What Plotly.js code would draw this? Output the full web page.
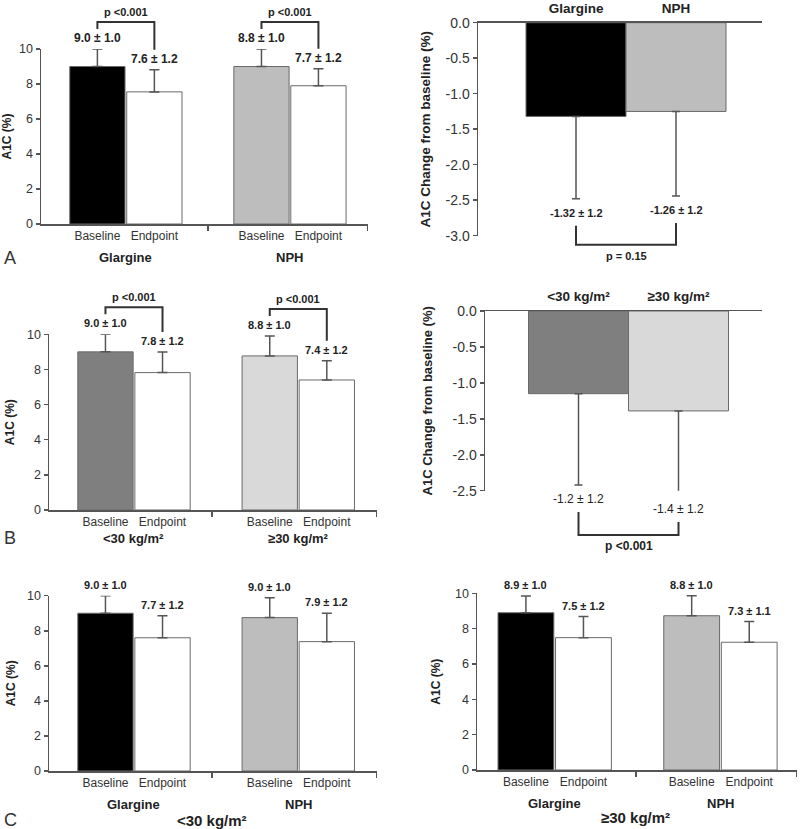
<!DOCTYPE html>
<html><head><meta charset="utf-8">
<script src="https://cdn.plot.ly/plotly-3.0.1.min.js"></script>
<style>html,body{margin:0;padding:0;background:#fff}</style>
</head><body><div id="chart" style="width:800px;height:829px"></div>
<script>
// ---------------- data ----------------
const phases = ['Baseline', 'Endpoint'];
const treatGroups = ['Glargine', 'NPH'];
const bmiGroups = ['<30 kg/m²', '≥30 kg/m²'];

// Panel A: by treatment
const aMean = [9.0, 7.55, 9.0, 7.9];
const aErr = [1.0, 1.26, 1.0, 0.97];
const aLabels = ['9.0 ± 1.0', '7.6 ± 1.2', '8.8 ± 1.0', '7.7 ± 1.2'];
const aP = ['p <0.001', 'p <0.001'];
const aChange = [-1.32, -1.25];
const aChangeErr = [1.16, 1.19];
const aChangeLabels = ['-1.32 ± 1.2', '-1.26 ± 1.2'];
const aChangeP = 'p = 0.15';

// Panel B: by BMI
const bMean = [9.0, 7.82, 8.77, 7.4];
const bErr = [1.0, 1.17, 1.13, 1.1];
const bLabels = ['9.0 ± 1.0', '7.8 ± 1.2', '8.8 ± 1.0', '7.4 ± 1.2'];
const bP = ['p <0.001', 'p <0.001'];
const bChange = [-1.15, -1.39];
const bChangeErr = [1.27, 1.17];
const bChangeLabels = ['-1.2 ± 1.2', '-1.4 ± 1.2'];
const bChangeP = 'p <0.001';

// Panel C: treatment within BMI strata
const cLowMean = [9.0, 7.6, 8.75, 7.38];
const cLowErr = [1.0, 1.26, 1.14, 1.62];
const cLowLabels = ['9.0 ± 1.0', '7.7 ± 1.2', '9.0 ± 1.0', '7.9 ± 1.2'];
const cHighMean = [8.9, 7.49, 8.73, 7.23];
const cHighErr = [0.95, 1.19, 1.13, 1.17];
const cHighLabels = ['8.9 ± 1.0', '7.5 ± 1.2', '8.8 ± 1.0', '7.3 ± 1.1'];

// ---------------- style / geometry ----------------
const W = 800, H = 829;
const FONT = 'Liberation Sans, Arial, Helvetica, sans-serif';
const AX = '#555';
const INK = '#222';
const BLACK = '#000000', MIDGRAY = '#bdbdbd', DARKGRAY = '#7f7f7f', LIGHTGRAY = '#d9d9d9', WHITE = '#ffffff';
const GROUP_X = [0, 1, 2.88, 3.88];
const PAIR_X = [0, 1];

const P = {
  aL: {id: '',  xd: [41, 368],  yd: [224, 49],     xr: [-0.99, 4.75],  yr: [0, 10], mid: 1.94, stand: 5,  tfs: 12, grpOff: 34, lblFs: 12, pFs: 11},
  aR: {id: '2', xd: [478, 762], yd: [235.7, 22.7], xr: [-0.98, 1.86],  yr: [-3, 0], stand: 12, tfs: 13.5, drop: 32, lblFs: 11, lblBold: true, pFs: 11},
  bL: {id: '3', xd: [49, 377],  yd: [510, 334.3],  xr: [-0.99, 4.76],  yr: [0, 10], mid: 1.87, stand: 10, tfs: 12, grpOff: 28, lblFs: 11, pFs: 11},
  bR: {id: '4', xd: [485, 762], yd: [490.7, 311],  xr: [-0.935, 1.835], yr: [-2.5, 0], stand: 17, tfs: 13, drop: 26, lblFs: 12, lblBold: false, pFs: 12},
  cL: {id: '5', xd: [49, 377],  yd: [771, 595.7],  xr: [-0.99, 4.76],  yr: [0, 10], mid: 1.87, stand: 9,  tfs: 12, grpOff: 33, lblFs: 11},
  cR: {id: '6', xd: [477, 797], yd: [770, 593.3],  xr: [-0.85, 4.71],  yr: [0, 10], mid: 1.91, stand: 12, tfs: 12, grpOff: 33, lblFs: 11}
};

const toPY = p => 1 - p / H;
const toPX = p => p / W;
function vy(pn, v) { return pn.yd[0] + (v - pn.yr[0]) / (pn.yr[1] - pn.yr[0]) * (pn.yd[1] - pn.yd[0]); }
function vx(pn, x) { return pn.xd[0] + (x - pn.xr[0]) / (pn.xr[1] - pn.xr[0]) * (pn.xd[1] - pn.xd[0]); }
function keys(pn) { return {xa: 'xaxis' + pn.id, ya: 'yaxis' + pn.id, x: 'x' + pn.id, y: 'y' + pn.id}; }

const traces = [];
const layout = {
  width: W, height: H, margin: {l: 0, r: 0, t: 0, b: 0},
  paper_bgcolor: '#fff', plot_bgcolor: 'rgba(0,0,0,0)',
  showlegend: false, font: {family: FONT, color: INK},
  annotations: [], shapes: []
};

function bracketPath(pts) {
  return 'M ' + pts.map(p => toPX(p[0]).toFixed(5) + ',' + toPY(p[1]).toFixed(5)).join(' L ');
}
function ann(o) {
  layout.annotations.push(Object.assign({showarrow: false, xanchor: 'center', yanchor: 'middle'}, o));
}

function groupedPanel(pn, means, errs, colors, labels, pvals, groupNames) {
  const k = keys(pn);
  traces.push({
    type: 'bar', x: GROUP_X, y: means, width: 0.97, xaxis: k.x, yaxis: k.y,
    marker: {color: colors, line: {color: '#6a6a6a', width: 1}},
    error_y: {type: 'data', symmetric: false, array: errs, arrayminus: errs.map(() => 0),
              color: AX, thickness: 1.5, width: 5},
    hoverinfo: 'skip', showlegend: false
  });
  layout[k.xa] = {
    domain: [toPX(pn.xd[0]), toPX(pn.xd[1])], range: pn.xr, anchor: k.y,
    showline: true, linecolor: AX, linewidth: 1.5, showgrid: false, zeroline: false,
    tickmode: 'array', tickvals: GROUP_X, ticktext: phases.concat(phases), ticks: '',
    tickfont: {family: FONT, size: 12, color: '#333'},
    minor: {tickmode: 'array', tickvals: [pn.mid, pn.xr[1] - 0.005], ticks: 'outside',
            ticklen: 5, tickwidth: 1.5, tickcolor: AX, showgrid: false},
    fixedrange: true
  };
  layout[k.ya] = {
    domain: [toPY(pn.yd[0]), toPY(pn.yd[1])], range: pn.yr, anchor: k.x,
    showline: true, linecolor: AX, linewidth: 1.5, showgrid: false, zeroline: false,
    tickmode: 'array', tickvals: [0, 2, 4, 6, 8, 10], ticks: 'outside', ticklen: 4,
    tickwidth: 1.5, tickcolor: AX, tickfont: {family: FONT, size: 12.5, color: '#333'},
    title: {text: '<b>A1C (%)</b>', font: {family: FONT, size: pn.tfs, color: INK}, standoff: pn.stand},
    fixedrange: true
  };
  const labPx = means.map((m, i) => vy(pn, m + errs[i]) - 11);
  labels.forEach((t, i) => ann({xref: k.x, x: GROUP_X[i], yref: 'paper', y: toPY(labPx[i]),
    text: '<b>' + t + '</b>', font: {family: FONT, size: pn.lblFs, color: INK}}));
  if (pvals) {
    pvals.forEach((pt, g) => {
      const iL = 2 * g, iR = 2 * g + 1;
      const top = Math.min(labPx[iL], labPx[iR]) - 16;
      const xL = vx(pn, GROUP_X[iL]), xR = vx(pn, GROUP_X[iR]);
      layout.shapes.push({type: 'path', xref: 'paper', yref: 'paper',
        path: bracketPath([[xL, labPx[iL] - 9], [xL, top], [xR, top], [xR, labPx[iR] - 9]]),
        line: {color: '#333', width: 2}});
      ann({xref: k.x, x: (GROUP_X[iL] + GROUP_X[iR]) / 2, yref: 'paper', y: toPY(top - 10),
        text: '<b>' + pt + '</b>', font: {family: FONT, size: pn.pFs, color: INK}});
    });
  }
  groupNames.forEach((gname, g) => ann({xref: k.x, x: (GROUP_X[2 * g] + GROUP_X[2 * g + 1]) / 2,
    yref: 'paper', y: toPY(pn.yd[0] + pn.grpOff), text: '<b>' + gname + '</b>',
    font: {family: FONT, size: 13, color: INK}}));
}

function changePanel(pn, vals, errs, colors, labels, ptext, cats) {
  const k = keys(pn);
  traces.push({
    type: 'bar', x: PAIR_X, y: vals, width: 1.0, xaxis: k.x, yaxis: k.y,
    marker: {color: colors, line: {color: '#6a6a6a', width: 1}},
    error_y: {type: 'data', symmetric: false, array: errs.map(() => 0), arrayminus: errs,
              color: AX, thickness: 1.5, width: 4},
    hoverinfo: 'skip', showlegend: false
  });
  const yt = [];
  for (let v = 0; v >= pn.yr[0] - 1e-9; v -= 0.5) yt.push(Math.round(v * 10) / 10);
  layout[k.xa] = {
    domain: [toPX(pn.xd[0]), toPX(pn.xd[1])], range: pn.xr, anchor: k.y, side: 'top',
    showline: true, linecolor: AX, linewidth: 1.5, showgrid: false, zeroline: false,
    tickmode: 'array', tickvals: PAIR_X, ticktext: cats.map(c => '<b>' + c + '</b>'), ticks: '',
    tickfont: {family: FONT, size: 13.5, color: INK}, ticklabelstandoff: 3, fixedrange: true
  };
  layout[k.ya] = {
    domain: [toPY(pn.yd[0]), toPY(pn.yd[1])], range: pn.yr, anchor: k.x,
    showline: true, linecolor: AX, linewidth: 1.5, showgrid: false, zeroline: false,
    tickmode: 'array', tickvals: yt, ticktext: yt.map(v => (v === 0 ? 0 : v).toFixed(1)),
    ticks: 'outside', ticklen: 4, tickwidth: 1.5, tickcolor: AX,
    tickfont: {family: FONT, size: 14, color: '#333'},
    title: {text: '<b>A1C Change from baseline (%)</b>', font: {family: FONT, size: pn.tfs, color: INK}, standoff: pn.stand},
    fixedrange: true
  };
  const labPx = vals.map((v, i) => vy(pn, v - errs[i]) + 14);
  labels.forEach((t, i) => ann({xref: k.x, x: PAIR_X[i], yref: 'paper', y: toPY(labPx[i]),
    text: pn.lblBold ? '<b>' + t + '</b>' : t, font: {family: FONT, size: pn.lblFs, color: INK}}));
  const bottom = Math.max(labPx[0], labPx[1]) + pn.drop;
  const xL = vx(pn, PAIR_X[0]), xR = vx(pn, PAIR_X[1]);
  layout.shapes.push({type: 'path', xref: 'paper', yref: 'paper',
    path: bracketPath([[xL, labPx[0] + 13], [xL, bottom], [xR, bottom], [xR, labPx[1] + 13]]),
    line: {color: '#333', width: 2}});
  ann({xref: k.x, x: (PAIR_X[0] + PAIR_X[1]) / 2, yref: 'paper', y: toPY(bottom + 11),
    text: '<b>' + ptext + '</b>', font: {family: FONT, size: pn.pFs, color: INK}});
}

groupedPanel(P.aL, aMean, aErr, [BLACK, WHITE, MIDGRAY, WHITE], aLabels, aP, treatGroups);
changePanel(P.aR, aChange, aChangeErr, [BLACK, MIDGRAY], aChangeLabels, aChangeP, treatGroups);
groupedPanel(P.bL, bMean, bErr, [DARKGRAY, WHITE, LIGHTGRAY, WHITE], bLabels, bP, bmiGroups);
changePanel(P.bR, bChange, bChangeErr, [DARKGRAY, LIGHTGRAY], bChangeLabels, bChangeP, bmiGroups);
groupedPanel(P.cL, cLowMean, cLowErr, [BLACK, WHITE, MIDGRAY, WHITE], cLowLabels, null, treatGroups);
groupedPanel(P.cR, cHighMean, cHighErr, [BLACK, WHITE, MIDGRAY, WHITE], cHighLabels, null, treatGroups);

// stratum titles under panel C
ann({xref: 'x5', x: P.cL.mid, yref: 'paper', y: toPY(820), text: '<b>' + bmiGroups[0] + '</b>',
     font: {family: FONT, size: 15, color: INK}});
ann({xref: 'x6', x: P.cR.mid, yref: 'paper', y: toPY(817), text: '<b>' + bmiGroups[1] + '</b>',
     font: {family: FONT, size: 15, color: INK}});

// panel letters
[['A', 258], ['B', 538], ['C', 820]].forEach(([t, y]) => ann({xref: 'paper', x: toPX(10), yref: 'paper',
  y: toPY(y), text: t, font: {family: FONT, size: 18, color: '#333'}}));

Plotly.newPlot('chart', traces, layout, {staticPlot: true, displayModeBar: false});
</script>
</body></html>
